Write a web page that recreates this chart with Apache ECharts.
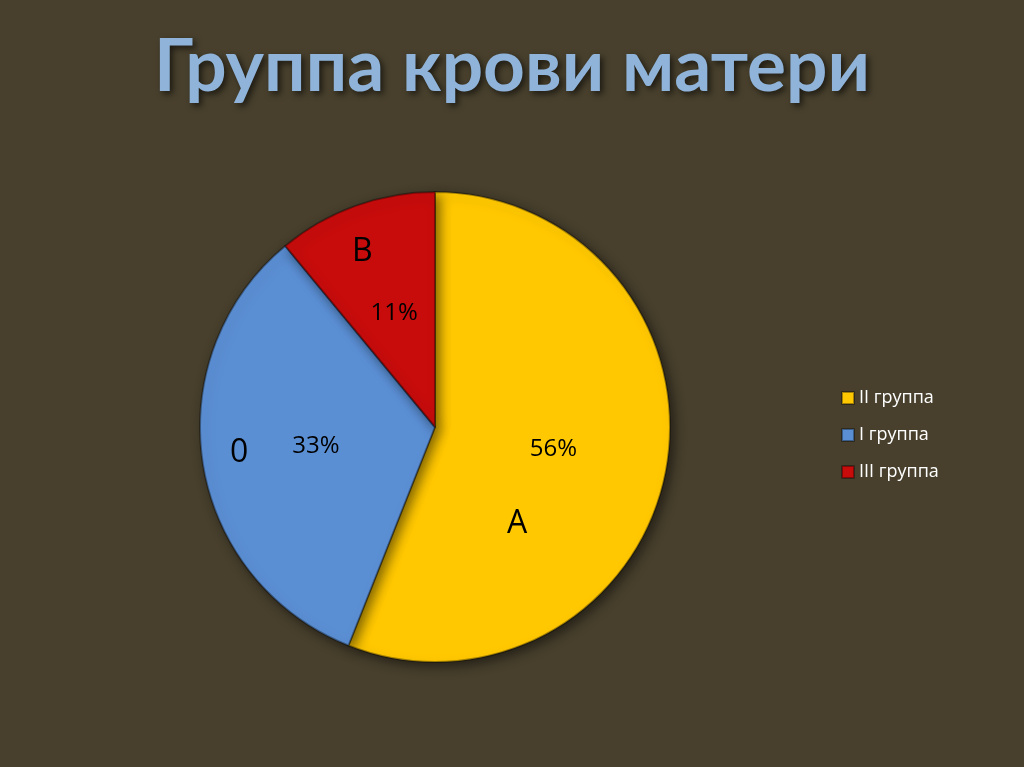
<!DOCTYPE html>
<html><head><meta charset="utf-8">
<script src="https://cdn.jsdelivr.net/npm/echarts@6/dist/echarts.min.js"></script>
<style>html,body{margin:0;padding:0;background:#48402d}#c{width:1024px;height:767px}</style>
</head><body><div id="c"></div>
<script>
const categories = ['II группа', 'I группа', 'III группа'];
const values = [56, 33, 11];
const colors = ['#ffc800', '#5b8fd4', '#c80c0c'];
const letters = ['A', '0', 'B'];

const chart = echarts.init(document.getElementById('c'));
chart.setOption({
  backgroundColor: '#48402d',
  title: {
    text: 'Группа крови матери', left: 'center', top: 26,
    textStyle: { fontFamily: 'Lato', fontWeight: 'bold', fontSize: 73, color: '#8fb3d9',
      textShadowColor: 'rgba(0,0,0,0.6)', textShadowBlur: 6, textShadowOffsetX: 3, textShadowOffsetY: 3 }
  },
  legend: {
    orient: 'vertical', left: 836, top: 384, itemGap: 19, itemWidth: 12, itemHeight: 12,
    icon: 'rect',
    textStyle: { color: '#ffffff', fontFamily: 'Open Sans', fontSize: 18 },
    data: categories
  },
  series: [{
    type: 'pie', center: [435, 427], radius: [0, 235], startAngle: 90, clockwise: true,
    data: categories.map((n, i) => ({ name: n, value: values[i], itemStyle: { color: colors[i] } })),
    itemStyle: { borderColor: 'rgba(0,0,0,0.35)', borderWidth: 2, shadowColor: 'rgba(0,0,0,0.5)', shadowBlur: 12, shadowOffsetX: 4, shadowOffsetY: 4 },
    label: { position: 'inner', formatter: p => p.value + '%', color: '#000', fontFamily: 'Open Sans', fontSize: 24 },
    labelLine: { show: false }
  }],
  graphic: { elements: [
    { type: 'text', z: 100, x: 507, y: 508, style: { text: letters[0], fontSize: 32, fill: '#000', fontFamily: 'Open Sans' } },
    { type: 'text', z: 100, x: 230, y: 437, style: { text: letters[1], fontSize: 32, fill: '#000', fontFamily: 'Open Sans' } },
    { type: 'text', z: 100, x: 352, y: 236, style: { text: letters[2], fontSize: 32, fill: '#000', fontFamily: 'Open Sans' } }
  ] }
});
</script></body></html>
